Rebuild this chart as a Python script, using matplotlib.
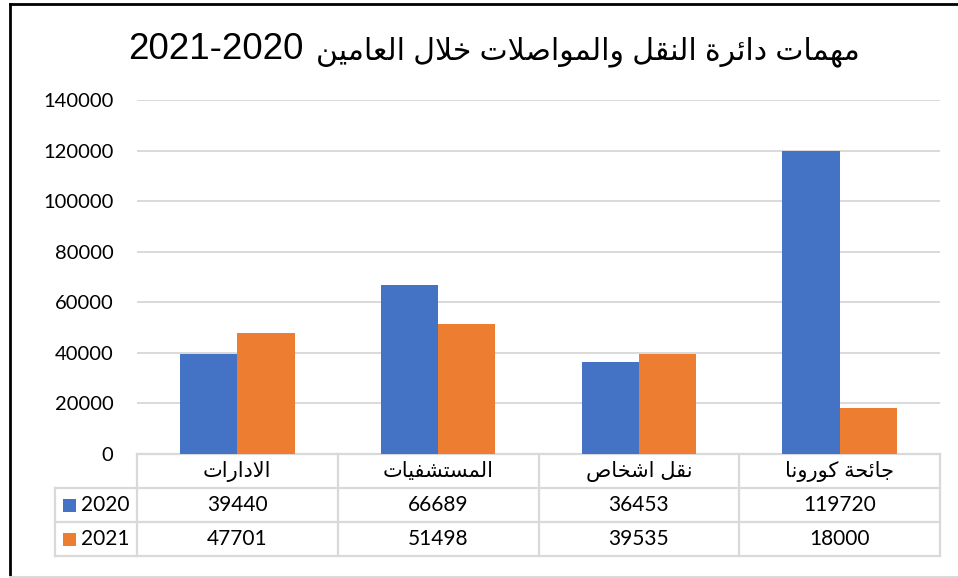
import re
import numpy as np
import matplotlib
matplotlib.use("Agg")
import matplotlib.pyplot as plt
from matplotlib.lines import Line2D
from matplotlib.patches import Rectangle
from matplotlib.transforms import blended_transform_factory

# data
categories = ["الادارات", "المستشفيات", "نقل اشخاص", "جائحة كورونا"]
series_names = ["2020", "2021"]
values_2020 = [39440, 66689, 36453, 119720]
values_2021 = [47701, 51498, 39535, 18000]
title_text = "مهمات دائرة النقل والمواصلات خلال العامين"
title_years = "2021-2020"

colors = ["#4472C4", "#ED7D31"]
grid_color = "#D9D9D9"
num_font = ["Lato", "DejaVu Sans"]
ar_font = ["Liberation Sans", "DejaVu Sans"]

# minimal Arabic shaping (presentation forms) since matplotlib has no bidi support
DUAL = {'ئ': 0xFE89, 'ب': 0xFE8F, 'ت': 0xFE95, 'ث': 0xFE99, 'ج': 0xFE9D, 'ح': 0xFEA1,
        'خ': 0xFEA5, 'س': 0xFEB1, 'ش': 0xFEB5, 'ص': 0xFEB9, 'ض': 0xFEBD, 'ط': 0xFEC1,
        'ظ': 0xFEC5, 'ع': 0xFEC9, 'غ': 0xFECD, 'ف': 0xFED1, 'ق': 0xFED5, 'ك': 0xFED9,
        'ل': 0xFEDD, 'م': 0xFEE1, 'ن': 0xFEE5, 'ه': 0xFEE9, 'ي': 0xFEF1}
RIGHT = {'ا': 0xFE8D, 'ة': 0xFE93, 'د': 0xFEA9, 'ذ': 0xFEAB, 'ر': 0xFEAD, 'ز': 0xFEAF,
         'و': 0xFEED, 'ى': 0xFEEF}


def ar(text):
    out = []
    i, n = 0, len(text)
    while i < n:
        ch = text[i]
        joins_prev = i > 0 and text[i - 1] in DUAL
        if ch == 'ل' and i + 1 < n and text[i + 1] == 'ا':
            out.append(chr(0xFEFC if joins_prev else 0xFEFB))
            i += 2
            continue
        if ch in DUAL:
            nxt = text[i + 1] if i + 1 < n else ''
            joins_next = nxt in DUAL or nxt in RIGHT
            form = 3 if (joins_prev and joins_next) else 1 if joins_prev else 2 if joins_next else 0
            out.append(chr(DUAL[ch] + form))
        elif ch in RIGHT:
            out.append(chr(RIGHT[ch] + (1 if joins_prev else 0)))
        else:
            out.append(ch)
        i += 1
    s = "".join(out)[::-1]
    return re.sub(r"[0-9\-]+", lambda m: m.group(0)[::-1], s)


W, H = 958, 578
fig = plt.figure(figsize=(W / 100, H / 100), dpi=100)
fig.patch.set_facecolor("white")

ax_left, ax_right, ax_top, ax_bottom = 137, 940, 100, 454
ax = fig.add_axes([ax_left / W, 1 - ax_bottom / H, (ax_right - ax_left) / W, (ax_bottom - ax_top) / H])

x = np.arange(len(categories))
bw = 0.285
ax.bar(x - bw / 2, values_2020, bw, color=colors[0], zorder=3)
ax.bar(x + bw / 2, values_2021, bw, color=colors[1], zorder=3)

ax.set_xlim(-0.5, len(categories) - 0.5)
ax.set_ylim(0, 140000)
ax.set_yticks(np.arange(0, 140001, 20000))
ax.set_yticklabels([str(v) for v in range(0, 140001, 20000)], family=num_font, fontsize=14.5)
ax.set_xticks([])
ax.tick_params(axis="y", length=0, pad=17)
ax.grid(axis="y", color=grid_color, lw=1.4, zorder=0)
for s in ax.spines.values():
    s.set_visible(False)

# data table under the plot
tr = blended_transform_factory(ax.transData, ax.transAxes)
row_h = 34 / (ax_bottom - ax_top)
cw = (ax_right - ax_left) / len(categories)
leg_left = -0.5 - (ax_left - 55) / cw
n = len(categories)

line_kw = dict(color=grid_color, lw=1.6, transform=tr, clip_on=False)
ax.add_line(Line2D([-0.5, n - 0.5], [0, 0], **line_kw))
for r in range(1, 4):
    ax.add_line(Line2D([leg_left, n - 0.5], [-r * row_h, -r * row_h], **line_kw))
ax.add_line(Line2D([leg_left, leg_left], [-row_h, -3 * row_h], **line_kw))
for k in range(n + 1):
    ax.add_line(Line2D([k - 0.5, k - 0.5], [0, -3 * row_h], **line_kw))

for i, cat in enumerate(categories):
    ax.text(i, -0.5 * row_h, ar(cat), transform=tr, ha="center", va="center",
            family=ar_font, fontsize=15, clip_on=False)
    ax.text(i, -1.5 * row_h, str(values_2020[i]), transform=tr, ha="center", va="center",
            family=num_font, fontsize=15, clip_on=False)
    ax.text(i, -2.5 * row_h, str(values_2021[i]), transform=tr, ha="center", va="center",
            family=num_font, fontsize=15, clip_on=False)

sq_w = 13 / cw
sq_h = 13 / (ax_bottom - ax_top)
for r, (name, c) in enumerate(zip(series_names, colors)):
    yc = -(r + 1.5) * row_h
    ax.add_patch(Rectangle((-0.5 - (ax_left - 63) / cw, yc - sq_h / 2), sq_w, sq_h,
                           facecolor=c, edgecolor="none", transform=tr, clip_on=False))
    ax.text(-0.5 - (ax_left - 81) / cw, yc, name, transform=tr, ha="left", va="center",
            family=num_font, fontsize=15, clip_on=False)

# title: years on the left, Arabic words to the right (RTL order)
fig.text(128 / W, 1 - 59 / H, title_years, ha="left", va="baseline",
         family=ar_font, fontsize=26.5)
fig.text(860 / W, 1 - 59 / H, ar(title_text), ha="right", va="baseline",
         family=ar_font, fontsize=21.5)

# chart frame (cropped)
fig.add_artist(Line2D([10 / W, 10 / W], [0, 1 - 4 / H], color="black", lw=2, transform=fig.transFigure))
fig.add_artist(Line2D([10 / W, 1], [1 - 4 / H, 1 - 4 / H], color="black", lw=2, transform=fig.transFigure))
fig.add_artist(Line2D([10 / W, 1], [1 - 577 / H, 1 - 577 / H], color=grid_color, lw=1.5, transform=fig.transFigure))

fig.savefig("out.png", dpi=100, facecolor="white")
